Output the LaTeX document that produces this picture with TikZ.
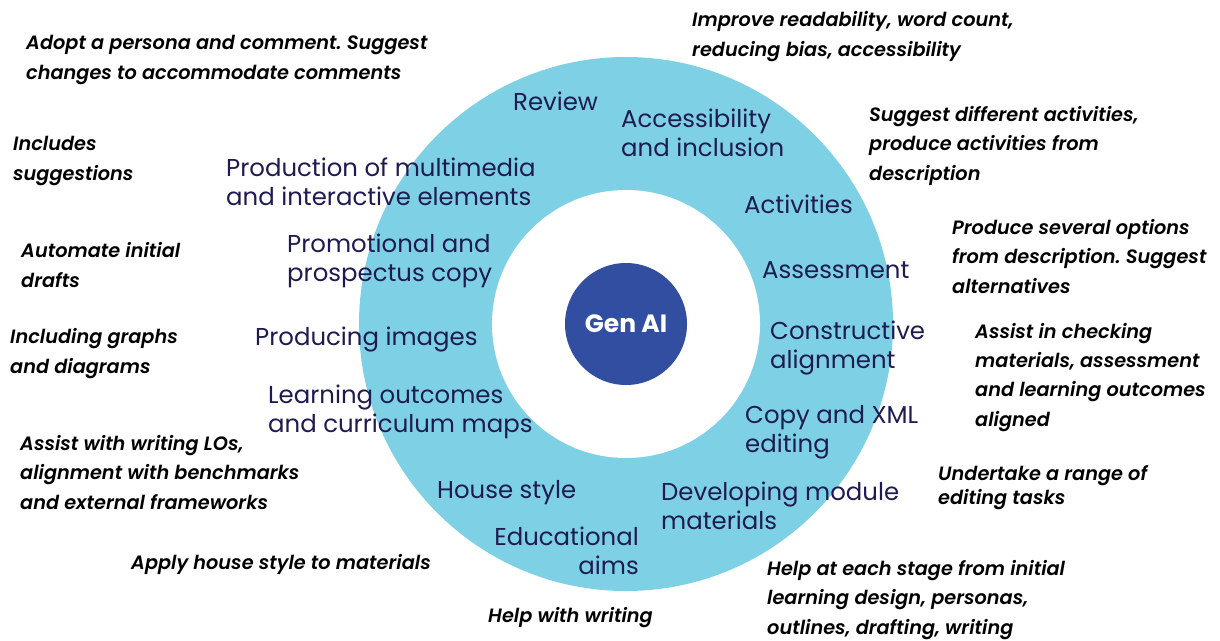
\documentclass[tikz,border=0pt]{standalone}
\usepackage{fontspec}
\setmainfont{Poppins}
\newfontfamily\notefont{Poppins SemiBold Italic}
\frenchspacing
\definecolor{ringblue}{RGB}{126,209,228}
\definecolor{coreblue}{RGB}{50,78,160}
\definecolor{navy}{RGB}{30,27,82}
\tikzset{
  ringlabel/.style={anchor=base west, inner sep=0pt, align=left, text=navy,
    font=\fontsize{24.4}{29}\selectfont},
  note/.style={anchor=base west, inner sep=0pt, align=left, text=black,
    font={\notefont\fontsize{19.3}{29.5}\selectfont}},
  disc/.style={circle, inner sep=0pt, draw=none}
}
\begin{document}
\begin{tikzpicture}[x=1pt,y=-1pt]
\useasboundingbox (0,0) rectangle (1220,640);
\fill[white] (0,0) rectangle (1220,640);

% rings and centre
\node[disc, fill=ringblue, minimum size=534pt] (ring) at (626,324) {};
\node[disc, fill=white, minimum size=268pt] (hole) at (626,324) {};
\node[disc, fill=coreblue, minimum size=122pt, text=white,
      font=\bfseries\fontsize{25}{30}\selectfont] (genai) at (626,324) {Gen AI};

% areas of work inside the ring (y = baseline of the last line)
\node[ringlabel] (review) at (513,110) {Review};
\node[ringlabel] (access) at (621,156) {Accessibility\\and inclusion};
\node[ringlabel] (multi) at (226,205) {Production of multimedia\\and interactive elements};
\node[ringlabel] (activ) at (744,213) {Activities};
\node[ringlabel] (promo) at (287,281) {Promotional and\\prospectus copy};
\node[ringlabel] (assess) at (762,278) {Assessment};
\node[ringlabel] (images) at (255,345) {Producing images};
\node[ringlabel] (constr) at (770,368) {Constructive\\alignment};
\node[ringlabel] (lo) at (268,432) {Learning outcomes\\and curriculum maps};
\node[ringlabel] (xml) at (745,452) {Copy and XML\\editing};
\node[ringlabel] (house) at (437,498) {House style};
\node[ringlabel] (module) at (661,529) {Developing module\\materials};
\node[ringlabel, align=right, anchor=base east] (aims) at (639,574) {Educational\\aims};

% how Gen AI helps in each area
\node[note] (n-review) at (26,79) {Adopt a persona and comment. Suggest\\changes to accommodate comments};
\node[note] (n-access) at (692,56) {Improve readability, word count,\\reducing bias, accessibility};
\node[note] (n-multi) at (13,180) {Includes\\suggestions};
\node[note] (n-activ) at (869,180) {Suggest different activities,\\produce activities from\\description};
\node[note] (n-promo) at (21,287) {Automate initial\\drafts};
\node[note] (n-assess) at (952,293) {Produce several options\\from description. Suggest\\alternatives};
\node[note] (n-images) at (10,373) {Including graphs\\and diagrams};
\node[note, font={\notefont\fontsize{19.3}{29.3}\selectfont}] (n-constr) at (975,426) {Assist in checking\\materials, assessment\\and learning outcomes\\aligned};
\node[note] (n-lo) at (20,509) {Assist with writing LOs,\\alignment with benchmarks\\and external frameworks};
\node[note, font={\notefont\fontsize{19.3}{24}\selectfont}] (n-xml) at (938,504) {Undertake a range of\\editing tasks};
\node[note] (n-house) at (131,569) {Apply house style to materials};
\node[note] (n-aims) at (488,622) {Help with writing};
\node[note] (n-module) at (767,634) {Help at each stage from initial\\learning design, personas,\\outlines, drafting, writing};
\end{tikzpicture}
\end{document}
